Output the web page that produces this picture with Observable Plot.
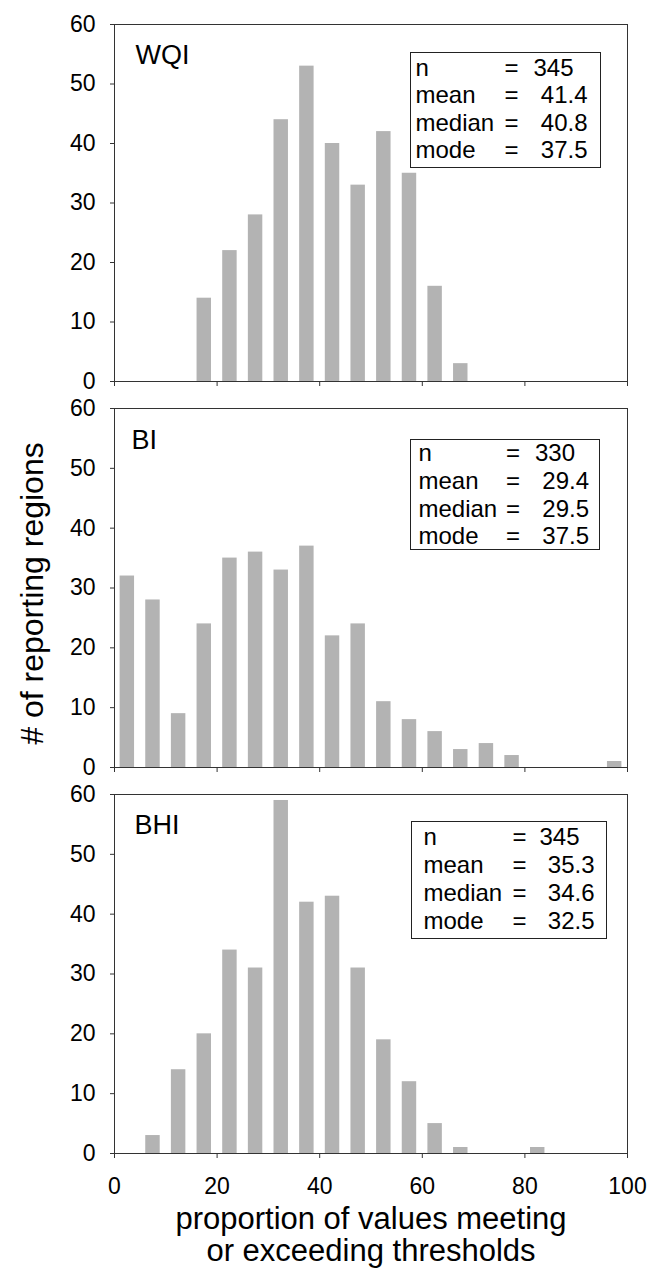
<!DOCTYPE html>
<html>
<head>
<meta charset="utf-8">
<script src="https://cdn.jsdelivr.net/npm/d3@7"></script>
<script src="https://cdn.jsdelivr.net/npm/@observablehq/plot@0.6"></script>
<style>
  html, body { margin: 0; padding: 0; background: #fff; }
  #chart { width: 656px; }
  #chart svg { display: block; }
</style>
</head>
<body>
<div id="chart"></div>
<script>
// ---- data ----
const binStarts = [0, 5, 10, 15, 20, 25, 30, 35, 40, 45, 50, 55, 60, 65, 70, 75, 80, 85, 90, 95];
const wqiCounts = [0, 0, 0, 14, 22, 28, 44, 53, 40, 33, 42, 35, 16, 3, 0, 0, 0, 0, 0, 0];
const biCounts  = [32, 28, 9, 24, 35, 36, 33, 37, 22, 24, 11, 8, 6, 3, 4, 2, 0, 0, 0, 1];
const bhiCounts = [0, 3, 14, 20, 34, 31, 59, 42, 43, 31, 19, 12, 5, 1, 0, 0, 1, 0, 0, 0];
const statLabels = ["n", "mean", "median", "mode"];
const wqiStats = ["345", "41.4", "40.8", "37.5"];
const biStats  = ["330", "29.4", "29.5", "37.5"];
const bhiStats = ["345", "35.3", "34.6", "32.5"];
const panelNames = ["WQI", "BI", "BHI"];
const yTicks = [0, 10, 20, 30, 40, 50, 60];
const xTicks = [0, 20, 40, 60, 80, 100];
const yTitle = "# of reporting regions";
const xTitle = "proportion of values meeting\nor exceeding thresholds";

const FONT = "'Liberation Sans', Arial, Helvetica, sans-serif";

function panel({name, counts, stats, height, mt, mb, L, xLabels, extra = []}) {
  const data = binStarts.map((b, i) => ({bin: b, count: counts[i]}));
  const txt = (s, dx, dy, anchor, size) =>
    Plot.text([s], {frameAnchor: "top-left", text: d => d, dx, dy, lineAnchor: "bottom",
                    textAnchor: anchor, fontSize: size, fill: "#000"});
  const marks = [
    Plot.rectY(data, {x1: "bin", x2: d => d.bin + 5, y: "count", fill: "#b3b3b3",
                      insetLeft: 5.6, insetRight: 5.6}),
    Plot.frame({stroke: "#333", strokeWidth: 1}),
    Plot.axisY({ticks: yTicks, tickSize: 4, tickPadding: 15, fontSize: 23, label: null, stroke: "#333"}),
    Plot.axisX({ticks: xTicks, tickSize: 5, tickPadding: 19, fontSize: 23, label: null, stroke: "#333",
                tickFormat: xLabels ? d => String(d) : () => ""}),
    txt(name, L.nameDx, L.nameDy, "start", 27),
    Plot.frame({insetLeft: L.box[0], insetTop: L.box[1], insetRight: L.box[2], insetBottom: L.box[3],
                stroke: "#222", strokeWidth: 1}),
    ...statLabels.flatMap((lab, i) => [
      txt(lab, L.col[0], L.rows[i], "start", 24),
      txt("=", L.col[1], L.rows[i], "middle", 24),
      txt(stats[i], i === 0 ? L.col[2] : L.col[3], L.rows[i], "end", 24)
    ]),
    ...extra
  ];
  return Plot.plot({
    width: 656, height,
    marginLeft: 114, marginRight: 29, marginTop: mt, marginBottom: mb,
    x: {domain: [0, 100]},
    y: {domain: [0, 60]},
    style: {fontFamily: FONT, color: "#000", background: "#fff", overflow: "visible"},
    marks
  });
}

const chart = document.getElementById("chart");

chart.append(panel({
  name: panelNames[0], counts: wqiCounts, stats: wqiStats,
  height: 395, mt: 24, mb: 14, xLabels: false,
  L: {nameDx: 21, nameDy: 39, box: [296, 28, 27, 214], rows: [51, 78, 106, 133], col: [301, 397, 459, 473]}
}));

chart.append(panel({
  name: panelNames[1], counts: biCounts, stats: biStats,
  height: 385, mt: 13, mb: 13, xLabels: false,
  L: {nameDx: 17, nameDy: 40, box: [296, 31, 28, 218], rows: [52, 80, 108, 135], col: [304, 398.5, 460.5, 474.5]},
  extra: [
    Plot.text([yTitle], {frameAnchor: "left", text: d => d, rotate: -90, dx: -72, dy: 5.5,
                         lineAnchor: "bottom", textAnchor: "middle", fontSize: 32, fill: "#000"})
  ]
}));

chart.append(panel({
  name: panelNames[2], counts: bhiCounts, stats: bhiStats,
  height: 488, mt: 14, mb: 115, xLabels: true,
  L: {nameDx: 20, nameDy: 39, box: [297, 27, 21, 215], rows: [50, 78, 106, 134], col: [309, 405, 465, 480]},
  extra: [
    Plot.text([xTitle], {frameAnchor: "bottom", text: d => d, dy: 107, lineAnchor: "bottom",
                         textAnchor: "middle", fontSize: 31, lineHeight: 1.03, fill: "#000"})
  ]
}));
</script>
</body>
</html>
